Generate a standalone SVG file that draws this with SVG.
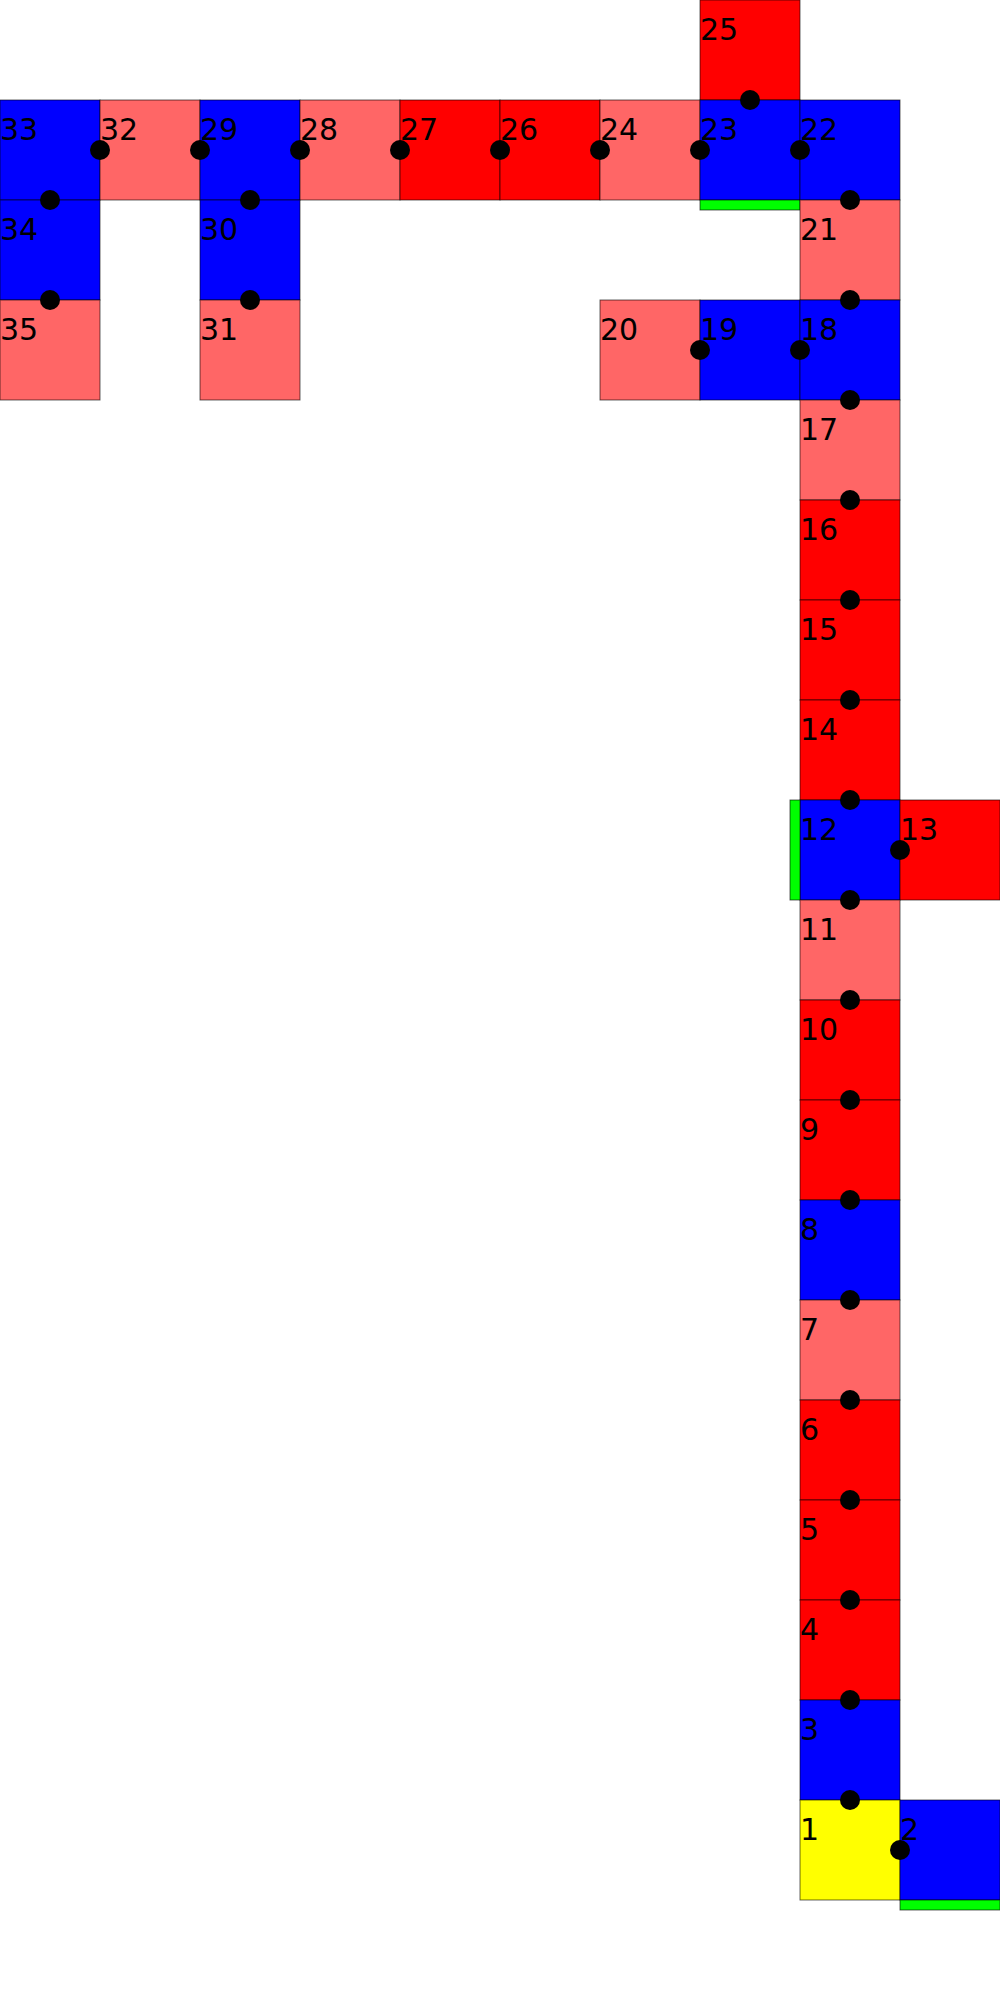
<svg xmlns="http://www.w3.org/2000/svg" width="1000" height="2000" viewBox="0 0 1000 2000">
<style>
rect.c{stroke:#000;stroke-opacity:0.6;stroke-width:1}
.r{fill:#ff0000}.l{fill:#ff6666}.b{fill:#0000ff}.y{fill:#ffff00}.g{fill:#00ff00;stroke:#000;stroke-opacity:0.6;stroke-width:1}
text{font-family:"DejaVu Sans",sans-serif;font-size:30px;fill:#000}
circle{fill:#000}
</style>
<rect width="1000" height="2000" fill="#fff"/>
<g id="n25"><rect class="c r" x="700" y="0" width="100" height="100"/><text x="700" y="40">25</text></g>
<g id="n33"><rect class="c b" x="0" y="100" width="100" height="100"/><text x="0" y="140">33</text></g>
<g id="n32"><rect class="c l" x="100" y="100" width="100" height="100"/><text x="100" y="140">32</text></g>
<g id="n29"><rect class="c b" x="200" y="100" width="100" height="100"/><text x="200" y="140">29</text></g>
<g id="n28"><rect class="c l" x="300" y="100" width="100" height="100"/><text x="300" y="140">28</text></g>
<g id="n27"><rect class="c r" x="400" y="100" width="100" height="100"/><text x="400" y="140">27</text></g>
<g id="n26"><rect class="c r" x="500" y="100" width="100" height="100"/><text x="500" y="140">26</text></g>
<g id="n24"><rect class="c l" x="600" y="100" width="100" height="100"/><text x="600" y="140">24</text></g>
<g id="n23"><rect class="c b" x="700" y="100" width="100" height="100"/><rect class="g" x="700" y="200" width="100" height="10"/><text x="700" y="140">23</text></g>
<g id="n22"><rect class="c b" x="800" y="100" width="100" height="100"/><text x="800" y="140">22</text></g>
<g id="n34"><rect class="c b" x="0" y="200" width="100" height="100"/><text x="0" y="240">34</text></g>
<g id="n30"><rect class="c b" x="200" y="200" width="100" height="100"/><text x="200" y="240">30</text></g>
<g id="n21"><rect class="c l" x="800" y="200" width="100" height="100"/><text x="800" y="240">21</text></g>
<g id="n35"><rect class="c l" x="0" y="300" width="100" height="100"/><text x="0" y="340">35</text></g>
<g id="n31"><rect class="c l" x="200" y="300" width="100" height="100"/><text x="200" y="340">31</text></g>
<g id="n20"><rect class="c l" x="600" y="300" width="100" height="100"/><text x="600" y="340">20</text></g>
<g id="n19"><rect class="c b" x="700" y="300" width="100" height="100"/><text x="700" y="340">19</text></g>
<g id="n18"><rect class="c b" x="800" y="300" width="100" height="100"/><text x="800" y="340">18</text></g>
<g id="n17"><rect class="c l" x="800" y="400" width="100" height="100"/><text x="800" y="440">17</text></g>
<g id="n16"><rect class="c r" x="800" y="500" width="100" height="100"/><text x="800" y="540">16</text></g>
<g id="n15"><rect class="c r" x="800" y="600" width="100" height="100"/><text x="800" y="640">15</text></g>
<g id="n14"><rect class="c r" x="800" y="700" width="100" height="100"/><text x="800" y="740">14</text></g>
<g id="n12"><rect class="c b" x="800" y="800" width="100" height="100"/><rect class="g" x="790" y="800" width="10" height="100"/><text x="800" y="840">12</text></g>
<g id="n13"><rect class="c r" x="900" y="800" width="100" height="100"/><text x="900" y="840">13</text></g>
<g id="n11"><rect class="c l" x="800" y="900" width="100" height="100"/><text x="800" y="940">11</text></g>
<g id="n10"><rect class="c r" x="800" y="1000" width="100" height="100"/><text x="800" y="1040">10</text></g>
<g id="n9"><rect class="c r" x="800" y="1100" width="100" height="100"/><text x="800" y="1140">9</text></g>
<g id="n8"><rect class="c b" x="800" y="1200" width="100" height="100"/><text x="800" y="1240">8</text></g>
<g id="n7"><rect class="c l" x="800" y="1300" width="100" height="100"/><text x="800" y="1340">7</text></g>
<g id="n6"><rect class="c r" x="800" y="1400" width="100" height="100"/><text x="800" y="1440">6</text></g>
<g id="n5"><rect class="c r" x="800" y="1500" width="100" height="100"/><text x="800" y="1540">5</text></g>
<g id="n4"><rect class="c r" x="800" y="1600" width="100" height="100"/><text x="800" y="1640">4</text></g>
<g id="n3"><rect class="c b" x="800" y="1700" width="100" height="100"/><text x="800" y="1740">3</text></g>
<g id="n1"><rect class="c y" x="800" y="1800" width="100" height="100"/><text x="800" y="1840">1</text></g>
<g id="n2"><rect class="c b" x="900" y="1800" width="100" height="100"/><rect class="g" x="900" y="1900" width="100" height="10"/><text x="900" y="1840">2</text></g>
<g id="connectors">
<circle cx="750" cy="100" r="10"/>
<circle cx="700" cy="150" r="10"/>
<circle cx="800" cy="150" r="10"/>
<circle cx="850" cy="200" r="10"/>
<circle cx="850" cy="300" r="10"/>
<circle cx="700" cy="350" r="10"/>
<circle cx="800" cy="350" r="10"/>
<circle cx="850" cy="400" r="10"/>
<circle cx="850" cy="500" r="10"/>
<circle cx="850" cy="600" r="10"/>
<circle cx="850" cy="700" r="10"/>
<circle cx="850" cy="800" r="10"/>
<circle cx="900" cy="850" r="10"/>
<circle cx="850" cy="900" r="10"/>
<circle cx="850" cy="1000" r="10"/>
<circle cx="850" cy="1100" r="10"/>
<circle cx="850" cy="1200" r="10"/>
<circle cx="850" cy="1300" r="10"/>
<circle cx="850" cy="1400" r="10"/>
<circle cx="850" cy="1500" r="10"/>
<circle cx="850" cy="1600" r="10"/>
<circle cx="850" cy="1700" r="10"/>
<circle cx="850" cy="1800" r="10"/>
<circle cx="900" cy="1850" r="10"/>
<circle cx="600" cy="150" r="10"/>
<circle cx="500" cy="150" r="10"/>
<circle cx="400" cy="150" r="10"/>
<circle cx="300" cy="150" r="10"/>
<circle cx="200" cy="150" r="10"/>
<circle cx="100" cy="150" r="10"/>
<circle cx="50" cy="200" r="10"/>
<circle cx="50" cy="300" r="10"/>
<circle cx="250" cy="200" r="10"/>
<circle cx="250" cy="300" r="10"/>
</g>
</svg>
